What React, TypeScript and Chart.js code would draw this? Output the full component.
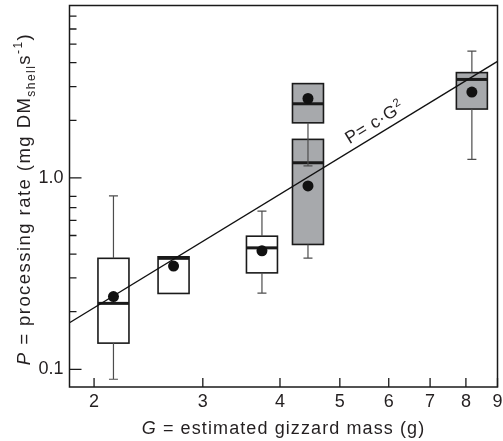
import React, { useEffect, useRef } from "react";
import { Chart, registerables } from "chart.js";

Chart.register(...registerables);

// ---- data ----
const groupG = [2.15, 2.69, 3.74, 4.44, 4.44, 8.18];
const groupSet = ["A", "A", "A", "B", "B", "B"];
const boxLow = [0.137, 0.249, 0.319, 1.94, 0.449, 2.29];
const boxHigh = [0.38, 0.387, 0.496, 3.11, 1.59, 3.55];
const medians = [0.221, 0.38, 0.431, 2.44, 1.2, 3.27];
const means = [0.24, 0.346, 0.416, 2.6, 0.908, 2.81];
const whiskerLow: (number | null)[] = [0.0887, null, 0.25, 1.155, 0.381, 1.25];
const whiskerHigh: (number | null)[] = [0.805, null, 0.67, null, null, 4.6];

const fitG = [1.825, 9];
const fitP = [0.175, 4.06];

const xTickValues = [2, 3, 4, 5, 6, 7, 8, 9];
const yMajorTicks = [0.1, 1];
const yTickLabels = ["0.1", "1.0"];
const yMinorTicks = [0.2, 0.3, 0.4, 0.5, 0.6, 0.7, 0.8, 2, 3, 4, 5, 6, 7];

const FONT = '"Liberation Sans", Arial, Helvetica, sans-serif';
const INK = "#231f20";

type Seg = { t: string; italic?: boolean; sub?: boolean; sup?: boolean };

function drawSegs(
  ctx: CanvasRenderingContext2D,
  segs: Seg[],
  size: number,
  spacing: number,
  align: "center" | "left" = "center"
) {
  const fontFor = (s: Seg) => {
    const sz = s.sub || s.sup ? size * 0.65 : size;
    return `${s.italic ? "italic " : ""}${sz}px ${FONT}`;
  };
  (ctx as any).letterSpacing = spacing + "px";
  const widths = segs.map((s) => {
    ctx.font = fontFor(s);
    return ctx.measureText(s.t).width;
  });
  const total = widths.reduce((a, b) => a + b, 0);
  let x = align === "center" ? -total / 2 : 0;
  ctx.textAlign = "left";
  ctx.textBaseline = "alphabetic";
  segs.forEach((s, i) => {
    ctx.font = fontFor(s);
    const dy = s.sub ? size * 0.28 : s.sup ? -size * 0.42 : 0;
    ctx.fillText(s.t, x, dy);
    x += widths[i];
  });
  (ctx as any).letterSpacing = "0px";
}

const boxPlugin = {
  id: "boxes",
  beforeDatasetsDraw(chart: any) {
    const { ctx, scales } = chart;
    const x = scales.x;
    const y = scales.y;
    const half = 15.5;
    ctx.save();
    groupG.forEach((g, i) => {
      const cx = x.getPixelForValue(g);
      const top = y.getPixelForValue(boxHigh[i]);
      const bot = y.getPixelForValue(boxLow[i]);
      ctx.fillStyle = groupSet[i] === "B" ? "#a7a9ac" : "#ffffff";
      ctx.fillRect(cx - half, top, half * 2, bot - top);
      ctx.lineWidth = 1.6;
      ctx.strokeStyle = "#1a1a1a";
      ctx.strokeRect(cx - half, top, half * 2, bot - top);
      const my = y.getPixelForValue(medians[i]);
      ctx.lineWidth = 3;
      ctx.beginPath();
      ctx.moveTo(cx - half, my);
      ctx.lineTo(cx + half, my);
      ctx.stroke();
    });
    ctx.strokeStyle = "#4d4d4d";
    ctx.lineWidth = 1.2;
    groupG.forEach((g, i) => {
      const cx = x.getPixelForValue(g);
      const top = y.getPixelForValue(boxHigh[i]);
      const bot = y.getPixelForValue(boxLow[i]);
      const wl = whiskerLow[i];
      const wh = whiskerHigh[i];
      if (wl != null) {
        const py = y.getPixelForValue(wl);
        ctx.beginPath();
        ctx.moveTo(cx, bot);
        ctx.lineTo(cx, py);
        ctx.moveTo(cx - 4.5, py);
        ctx.lineTo(cx + 4.5, py);
        ctx.stroke();
      }
      if (wh != null) {
        const py = y.getPixelForValue(wh);
        ctx.beginPath();
        ctx.moveTo(cx, top);
        ctx.lineTo(cx, py);
        ctx.moveTo(cx - 4.5, py);
        ctx.lineTo(cx + 4.5, py);
        ctx.stroke();
      }
    });
    ctx.restore();
  },
  afterDraw(chart: any) {
    const { ctx, chartArea: a, scales } = chart;
    const x = scales.x;
    const y = scales.y;
    ctx.save();
    // frame
    ctx.strokeStyle = "#1a1a1a";
    ctx.lineWidth = 1.5;
    ctx.strokeRect(a.left, a.top, a.right - a.left, a.bottom - a.top);
    // inward ticks
    ctx.lineWidth = 1.3;
    ctx.beginPath();
    yMajorTicks.forEach((v) => {
      const py = y.getPixelForValue(v);
      ctx.moveTo(a.left, py);
      ctx.lineTo(a.left + 12, py);
    });
    yMinorTicks.forEach((v) => {
      const py = y.getPixelForValue(v);
      ctx.moveTo(a.left, py);
      ctx.lineTo(a.left + 7, py);
    });
    xTickValues.forEach((v) => {
      const px = x.getPixelForValue(v);
      ctx.moveTo(px, a.bottom);
      ctx.lineTo(px, a.bottom - 9);
    });
    ctx.stroke();

    // fit label
    const p0x = x.getPixelForValue(fitG[0]);
    const p0y = y.getPixelForValue(fitP[0]);
    const p1x = x.getPixelForValue(fitG[1]);
    const p1y = y.getPixelForValue(fitP[1]);
    const ang = Math.atan2(p1y - p0y, p1x - p0x);
    const lx = x.getPixelForValue(5.25);
    const ly = p0y + ((lx - p0x) * (p1y - p0y)) / (p1x - p0x);
    ctx.fillStyle = INK;
    ctx.save();
    ctx.translate(lx, ly);
    ctx.rotate(ang);
    ctx.translate(0, -6.5);
    drawSegs(
      ctx,
      [{ t: "P= c\u00b7G" }, { t: "2", sup: true }],
      17.5,
      0.6,
      "left"
    );
    ctx.restore();

    // x title
    ctx.save();
    ctx.translate((a.left + a.right) / 2, 434);
    drawSegs(
      ctx,
      [{ t: "G", italic: true }, { t: " = estimated gizzard mass (g)" }],
      18,
      1.1
    );
    ctx.restore();

    // y title
    ctx.save();
    ctx.translate(29.5, 199);
    ctx.rotate(-Math.PI / 2);
    drawSegs(
      ctx,
      [
        { t: "P", italic: true },
        { t: " = processing rate (mg DM" },
        { t: "shell", sub: true },
        { t: "s" },
        { t: "-1", sup: true },
        { t: ")" },
      ],
      18.5,
      1.45
    );
    ctx.restore();
    ctx.restore();
  },
};

export default function App() {
  const ref = useRef<HTMLCanvasElement | null>(null);
  useEffect(() => {
    document.body.style.margin = "0";
    const canvas = ref.current!;
    const chart = new Chart(canvas, {
      type: "scatter",
      data: {
        datasets: [
          {
            data: groupG.map((g, i) => ({ x: g, y: means[i] })),
            pointRadius: 5.5,
            pointBackgroundColor: "#111",
            pointBorderWidth: 0,
            pointHoverRadius: 5.5,
          },
          {
            type: "line",
            data: fitG.map((g, i) => ({ x: g, y: fitP[i] })),
            borderColor: "#111",
            borderWidth: 1.4,
            pointRadius: 0,
            fill: false,
          } as any,
        ],
      },
      options: {
        animation: false,
        responsive: false,
        events: [],
        layout: { padding: { top: 5, right: 5.3, left: 0, bottom: 0 } },
        plugins: { legend: { display: false }, tooltip: { enabled: false } },
        scales: {
          x: {
            type: "logarithmic",
            min: 1.825,
            max: 9,
            grid: { display: false, drawTicks: false },
            border: { display: false },
            afterBuildTicks: (s: any) => {
              s.ticks = xTickValues.map((v) => ({ value: v }));
            },
            afterFit: (s: any) => {
              s.height = 54;
              s.paddingLeft = 0;
              s.paddingRight = 0;
            },
            ticks: {
              autoSkip: false,
              maxRotation: 0,
              padding: 4,
              color: INK,
              font: { family: FONT, size: 18 },
              callback: (v: any) => String(v),
            },
          },
          y: {
            type: "logarithmic",
            min: 0.0808,
            max: 7.96,
            grid: { display: false, drawTicks: false },
            border: { display: false },
            afterBuildTicks: (s: any) => {
              s.ticks = yMajorTicks.map((v) => ({ value: v }));
            },
            afterFit: (s: any) => {
              s.width = 69.5;
              s.paddingTop = 0;
              s.paddingBottom = 0;
            },
            ticks: {
              autoSkip: false,
              padding: 6,
              color: INK,
              font: { family: FONT, size: 18 },
              callback: (v: any) => {
                const i = yMajorTicks.indexOf(Number(v));
                return i >= 0 ? yTickLabels[i] : "";
              },
            },
          },
        },
      },
      plugins: [boxPlugin],
    });
    return () => chart.destroy();
  }, []);
  return (
    <div style={{ width: 503, height: 441 }}>
      <canvas ref={ref} width={503} height={441} />
    </div>
  );
}
